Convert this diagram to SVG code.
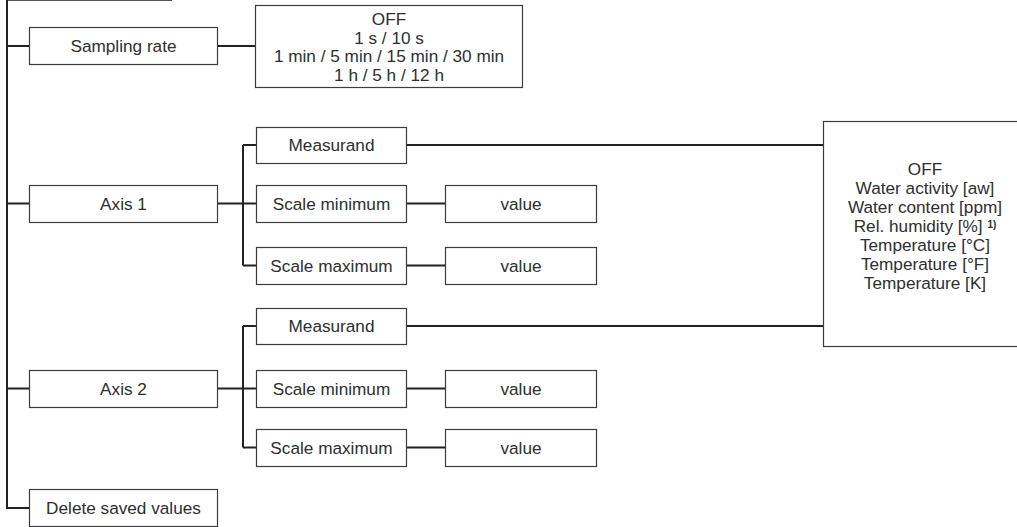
<svg xmlns="http://www.w3.org/2000/svg" width="1017" height="527" viewBox="0 0 1017 527">
<style>
.box{fill:#fff;stroke:#3c3c3c;stroke-width:1.2}
.c{fill:none;stroke:#222;stroke-width:2}
.t{font-family:"Liberation Sans",Arial,sans-serif;font-size:17.2px;fill:#2e2e2e;text-anchor:middle}
.sup{font-size:10px;font-weight:bold}
</style>
<rect width="1017" height="527" fill="#fff"/>
<g id="connectors">
<line x1="7" y1="0.5" x2="172" y2="0.5" stroke="#555" stroke-width="1.2"/>
<path class="c" d="M7 0V508H29M7 46H29M7 203.5H29M7 388.5H29"/>
<path class="c" d="M217 46H255"/>
<path class="c" d="M217 203.5H256M243 145V265.5M243 145H256M243 265.5H256"/>
<path class="c" d="M406 203.5H445M406 265.5H445"/>
<path class="c" d="M406 145H823M406 326H823"/>
<path class="c" d="M217 388.5H256M243 326V447.5M243 326H256M243 447.5H256"/>
<path class="c" d="M406 388.5H445M406 447.5H445"/>
</g>
<g id="sampling-rate"><rect class="box" x="29.5" y="27.5" width="188" height="37"/><text class="t" x="123.5" y="52">Sampling rate</text></g>
<g id="sampling-options"><rect class="box" x="255.5" y="5.5" width="267" height="82"/>
<text class="t" x="389" y="25">OFF</text>
<text class="t" x="389" y="43.5">1 s / 10 s</text>
<text class="t" x="389" y="62">1 min / 5 min / 15 min / 30 min</text>
<text class="t" x="389" y="80.5">1 h / 5 h / 12 h</text></g>
<g id="axis1"><rect class="box" x="29.5" y="185.5" width="188" height="37"/><text class="t" x="123.5" y="209.5">Axis 1</text></g>
<g id="measurand1"><rect class="box" x="256.5" y="127.5" width="150" height="36"/><text class="t" x="331.5" y="151">Measurand</text></g>
<g id="scalemin1"><rect class="box" x="256.5" y="185.5" width="150" height="37"/><text class="t" x="331.5" y="209.5">Scale minimum</text></g>
<g id="scalemax1"><rect class="box" x="256.5" y="247.5" width="150" height="37"/><text class="t" x="331.5" y="271.5">Scale maximum</text></g>
<g id="value1"><rect class="box" x="445.5" y="185.5" width="151" height="37"/><text class="t" x="521" y="209.5">value</text></g>
<g id="value2"><rect class="box" x="445.5" y="247.5" width="151" height="37"/><text class="t" x="521" y="271.5">value</text></g>
<g id="measurand-options"><rect class="box" x="823.5" y="121.5" width="210" height="225"/>
<text class="t" x="925" y="175">OFF</text>
<text class="t" x="925" y="194">Water activity [aw]</text>
<text class="t" x="925" y="213">Water content [ppm]</text>
<text class="t" x="925" y="232">Rel. humidity [%] <tspan class="sup" dy="-4">1)</tspan></text>
<text class="t" x="925" y="251">Temperature [°C]</text>
<text class="t" x="925" y="270">Temperature [°F]</text>
<text class="t" x="925" y="289">Temperature [K]</text></g>
<g id="axis2"><rect class="box" x="29.5" y="370.5" width="188" height="37"/><text class="t" x="123.5" y="394.5">Axis 2</text></g>
<g id="measurand2"><rect class="box" x="256.5" y="308.5" width="150" height="36"/><text class="t" x="331.5" y="332">Measurand</text></g>
<g id="scalemin2"><rect class="box" x="256.5" y="370.5" width="150" height="37"/><text class="t" x="331.5" y="394.5">Scale minimum</text></g>
<g id="scalemax2"><rect class="box" x="256.5" y="429.5" width="150" height="37"/><text class="t" x="331.5" y="453.5">Scale maximum</text></g>
<g id="value3"><rect class="box" x="445.5" y="370.5" width="151" height="37"/><text class="t" x="521" y="394.5">value</text></g>
<g id="value4"><rect class="box" x="445.5" y="429.5" width="151" height="37"/><text class="t" x="521" y="453.5">value</text></g>
<g id="delete"><rect class="box" x="29.5" y="489.5" width="188" height="37"/><text class="t" x="123.5" y="514">Delete saved values</text></g>
</svg>
